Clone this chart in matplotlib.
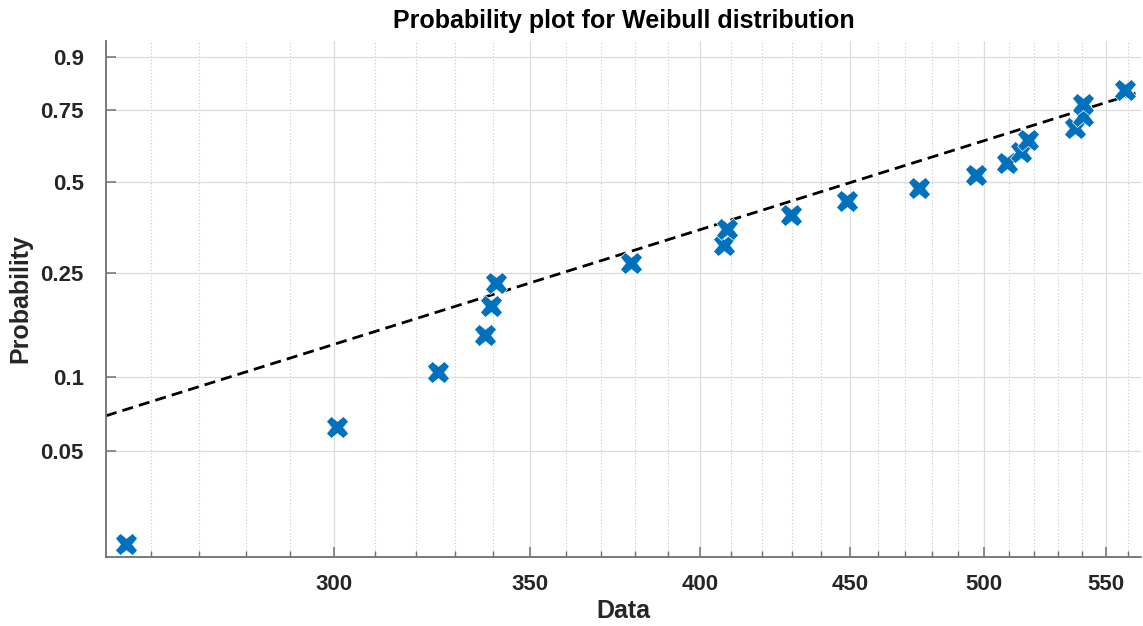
import numpy as np
import matplotlib
matplotlib.use("Agg")
import matplotlib.pyplot as plt
from matplotlib.ticker import FixedLocator, FixedFormatter, NullFormatter

# sample values (x = data, y = plotting position)
data = [254.9, 300.9, 325.7, 337.8, 339.6, 340.9, 378.8, 407.6, 408.7, 429.8,
        449.0, 475.0, 497.0, 508.9, 514.6, 517.6, 537.0, 540.5, 540.5, 558.6]
prob = [0.0208, 0.0625, 0.1042, 0.1458, 0.1875, 0.2292, 0.2708, 0.3125, 0.3542, 0.3958,
        0.4375, 0.4792, 0.5208, 0.5625, 0.6042, 0.6458, 0.6875, 0.7292, 0.7708, 0.8125]

# reference line end points
line_x = [250.9, 565.0]
line_p = [0.0697, 0.8077]

x_ticks = [300, 350, 400, 450, 500, 550]
x_labels = ["300", "350", "400", "450", "500", "550"]
y_ticks = [0.05, 0.1, 0.25, 0.5, 0.75, 0.9]
y_labels = ["0.05", "0.1", "0.25", "0.5", "0.75", "0.9"]

BLUE = "#0072BD"
AX_COL = "#707070"
TXT = "#262626"


def _fwd(p):
    p = np.clip(np.asarray(p, dtype=float), 1e-12, 1 - 1e-12)
    return np.log(-np.log1p(-p))


def _inv(v):
    v = np.asarray(v, dtype=float)
    return 1 - np.exp(-np.exp(v))


plt.rcParams["font.family"] = ["Liberation Sans", "DejaVu Sans"]
plt.rcParams["font.weight"] = "bold"

fig = plt.figure(figsize=(11.43, 6.26), dpi=100)
ax = fig.add_axes([0.0927, 0.1097, 0.9055, 0.8253])

ax.set_xscale("log")
ax.set_yscale("function", functions=(_fwd, _inv))
ax.set_xlim(250.9, 565.5)
ax.set_ylim(_inv(-3.9945), _inv(0.9944))

ax.plot(line_x, line_p, color="black", lw=2.0, linestyle=(0, (4, 2.2)), zorder=2)
ax.plot(data, prob, linestyle="none", marker="X", ms=16, mfc=BLUE, mec="white",
        mew=0.5, zorder=3)

ax.xaxis.set_major_locator(FixedLocator(x_ticks))
ax.xaxis.set_major_formatter(FixedFormatter(x_labels))
minor = [v for v in range(260, 570, 10) if v not in x_ticks]
ax.xaxis.set_minor_locator(FixedLocator(minor))
ax.xaxis.set_minor_formatter(NullFormatter())
ax.yaxis.set_major_locator(FixedLocator(y_ticks))
ax.yaxis.set_major_formatter(FixedFormatter(y_labels))
ax.yaxis.set_minor_locator(FixedLocator([]))

ax.grid(which="major", color="#dcdcdc", lw=0.9, linestyle="-")
ax.grid(which="minor", axis="x", color="#c8c8c8", lw=0.8, linestyle=(0, (1, 2)))
ax.set_axisbelow(True)

for side in ("top", "right"):
    ax.spines[side].set_visible(False)
for side in ("left", "bottom"):
    ax.spines[side].set_color(AX_COL)
    ax.spines[side].set_linewidth(1.3)

ax.tick_params(axis="both", which="major", direction="in", length=7, width=1.1,
               color=AX_COL, labelsize=16, labelcolor=TXT)
ax.tick_params(axis="x", which="major", pad=12)
ax.tick_params(axis="y", which="major", pad=16)
ax.tick_params(axis="x", which="minor", direction="in", length=4, width=1.0, color=AX_COL)
for lab in ax.get_xticklabels() + ax.get_yticklabels():
    lab.set_fontweight("bold")

ax.set_xlabel("Data", fontsize=18, fontweight="bold", color=TXT, labelpad=3)
ax.set_ylabel("Probability", fontsize=18, fontweight="bold", color=TXT, labelpad=6)
ax.set_title("Probability plot for Weibull distribution", fontsize=18,
             fontweight="bold", color="black", pad=9)

fig.savefig("out.png", dpi=100)
